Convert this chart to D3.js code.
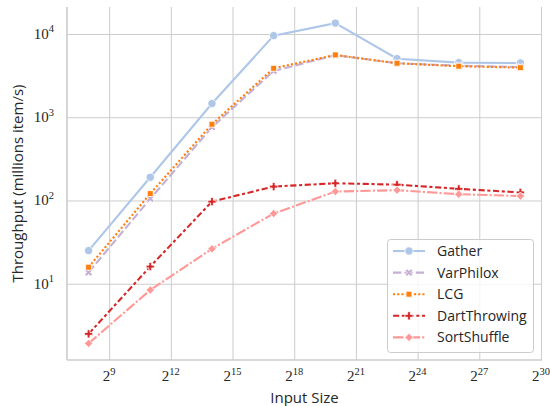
<!DOCTYPE html>
<html>
<head>
<meta charset="utf-8">
<script src="https://cdn.jsdelivr.net/npm/d3@7"></script>
<style>
  body { margin: 0; background: #fff; }
  svg { display: block; }
  .grid line { stroke: #cccccc; stroke-width: 1; }
  .grid .domain { display: none; }
</style>
</head>
<body>
<svg id="chart" width="550" height="406"></svg>
<script>
// x values: input sizes (2^8 ... 2^29)
const inputSizes = [256, 2048, 16384, 131072, 1048576, 8388608, 67108864, 536870912];
const xTickExps = [9, 12, 15, 18, 21, 24, 27, 30];
const yTickExps = [1, 2, 3, 4];

const seriesNames = ["Gather", "VarPhilox", "LCG", "DartThrowing", "SortShuffle"];
const gather = [25, 190, 1460, 9550, 13500, 5050, 4530, 4480];
const varPhilox = [13.7, 105, 760, 3600, 5550, 4450, 4150, 4000];
const lcg = [15.8, 121, 824, 3870, 5600, 4450, 4100, 3940];
const dartThrowing = [2.5, 16.1, 97, 147, 161, 155, 138, 125];
const sortShuffle = [1.92, 8.4, 26.3, 69.8, 128, 133, 119, 113];

const colors = ["#aec7e8", "#c5b0d5", "#ff7f0e", "#d62728", "#ff9896"];
const dashes = ["", "8.3,3.1", "2.1,2.1", "6.2,2.6,3.1,2.6", "10.4,2.1,2.1,2.1"];

// marker shapes (seaborn defaults: o, X, square, P, diamond)
const markers = [
  { type: d3.symbolCircle, size: 54, rot: 0 },
  { type: d3.symbolCross, size: 38, rot: 45 },
  { type: d3.symbolSquare, size: 35, rot: 0 },
  { type: d3.symbolCross, size: 38, rot: 0 },
  { type: d3.symbolSquare, size: 35, rot: 45 },
];

const series = [gather, varPhilox, lcg, dartThrowing, sortShuffle];

const svg = d3.select("#chart");
const plotLeft = 67, plotRight = 542, plotTop = 7, plotBottom = 360;
const textColor = "#262626";
const sans = "'Open Sans', sans-serif";
const serif = "'Liberation Serif', serif";

const x = d3.scaleLog().base(2).domain([Math.pow(2, 6.95), Math.pow(2, 30.05)]).range([plotLeft, plotRight]);
const y = d3.scaleLog().domain([Math.pow(10, 0.084), Math.pow(10, 4.324)]).range([plotBottom, plotTop]);

const xTicks = xTickExps.map((e) => Math.pow(2, e));
const yTicks = yTickExps.map((e) => Math.pow(10, e));

// grid
svg.append("g")
  .attr("class", "grid")
  .attr("transform", `translate(0,${plotBottom})`)
  .call(d3.axisBottom(x).tickValues(xTicks).tickSize(-(plotBottom - plotTop)).tickFormat(""));
svg.append("g")
  .attr("class", "grid")
  .attr("transform", `translate(${plotLeft},0)`)
  .call(d3.axisLeft(y).tickValues(yTicks).tickSize(-(plotRight - plotLeft)).tickFormat(""));

// spines (left + bottom only)
svg.append("line").attr("x1", plotLeft).attr("x2", plotLeft).attr("y1", plotTop).attr("y2", plotBottom)
  .attr("stroke", "#cccccc").attr("stroke-width", 1.6);
svg.append("line").attr("x1", plotLeft).attr("x2", plotRight).attr("y1", plotBottom).attr("y2", plotBottom)
  .attr("stroke", "#cccccc").attr("stroke-width", 1.6);

// tick labels with superscripts
function powerLabel(sel, base, exp) {
  sel.append("tspan").text(base);
  sel.append("tspan").attr("font-size", 10.5).attr("dy", -6.5).text(exp);
}

xTickExps.forEach((e, i) => {
  const t = svg.append("text")
    .attr("x", x(xTicks[i]))
    .attr("y", 381)
    .attr("text-anchor", "middle")
    .attr("font-family", serif)
    .attr("font-size", 15)
    .attr("fill", textColor);
  powerLabel(t, "2", e);
});

yTickExps.forEach((e, i) => {
  const t = svg.append("text")
    .attr("x", 54)
    .attr("y", y(yTicks[i]) + 5)
    .attr("text-anchor", "end")
    .attr("font-family", serif)
    .attr("font-size", 15)
    .attr("fill", textColor);
  powerLabel(t, "10", e);
});

// axis titles
svg.append("text")
  .attr("x", (plotLeft + plotRight) / 2)
  .attr("y", 403)
  .attr("text-anchor", "middle")
  .attr("font-family", sans)
  .attr("font-size", 15)
  .attr("fill", textColor)
  .text("Input Size");

svg.append("text")
  .attr("transform", `translate(23,${(plotTop + plotBottom) / 2}) rotate(-90)`)
  .attr("text-anchor", "middle")
  .attr("font-family", sans)
  .attr("font-size", 15)
  .attr("fill", textColor)
  .text("Throughput (millions item/s)");

function drawMarker(g, i, cx, cy) {
  const m = markers[i];
  g.append("path")
    .attr("d", d3.symbol().type(m.type).size(m.size)())
    .attr("transform", `translate(${cx},${cy}) rotate(${m.rot})`)
    .attr("fill", colors[i])
    .attr("stroke", "#fff")
    .attr("stroke-width", 0.8);
}

const line = d3.line()
  .x((d) => x(d[0]))
  .y((d) => y(d[1]));

// lines + markers, in hue order
series.forEach((vals, i) => {
  const pts = inputSizes.map((s, j) => [s, vals[j]]);
  const g = svg.append("g");
  g.append("path")
    .datum(pts)
    .attr("d", line)
    .attr("fill", "none")
    .attr("stroke", colors[i])
    .attr("stroke-width", 2.1)
    .attr("stroke-dasharray", dashes[i] || null);
  pts.forEach((p) => drawMarker(g, i, x(p[0]), y(p[1])));
});

// legend
const lg = svg.append("g");
lg.append("rect")
  .attr("x", 387.5).attr("y", 239.5)
  .attr("width", 146).attr("height", 113)
  .attr("rx", 3)
  .attr("fill", "#fff").attr("fill-opacity", 0.8)
  .attr("stroke", "#cccccc").attr("stroke-width", 1);

seriesNames.forEach((name, i) => {
  const cy = 251 + i * 21.6;
  lg.append("line")
    .attr("x1", 393).attr("x2", 425).attr("y1", cy).attr("y2", cy)
    .attr("stroke", colors[i]).attr("stroke-width", 2.1)
    .attr("stroke-dasharray", dashes[i] || null);
  drawMarker(lg, i, 409, cy);
  lg.append("text")
    .attr("x", 437)
    .attr("y", cy + 5)
    .attr("font-family", sans)
    .attr("font-size", 14)
    .attr("fill", textColor)
    .text(name);
});
</script>
</body>
</html>
